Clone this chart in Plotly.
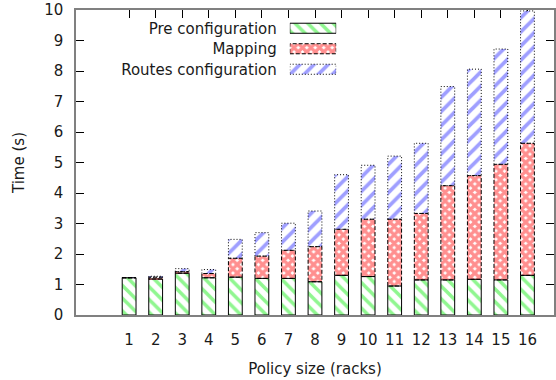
import plotly.graph_objects as go

racks = list(range(1, 17))
pre_config = [1.22, 1.18, 1.37, 1.22, 1.24, 1.20, 1.20, 1.09, 1.30, 1.26, 0.95, 1.15, 1.15, 1.17, 1.15, 1.30]
mapping = [0.00, 0.06, 0.05, 0.14, 0.62, 0.73, 0.92, 1.15, 1.51, 1.88, 2.19, 2.18, 3.09, 3.40, 3.79, 4.33]
routes = [0.01, 0.03, 0.10, 0.13, 0.62, 0.77, 0.89, 1.17, 1.79, 1.77, 2.07, 2.30, 3.25, 3.49, 3.78, 4.34]
series_names = ["Pre configuration", "Mapping", "Routes configuration"]
y_ticks = list(range(0, 11))

FONT = dict(family="DejaVu Sans", size=15, color="#1a1a1a")
BAR_W = 0.52
L, R, T, B = 76, 0, 10, 65
W, H = 556, 380

styles = [
    dict(color="white",
         pattern=dict(shape="\\", fgcolor="#22ee22", bgcolor="white", size=9, solidity=0.4),
         dash="solid"),
    dict(color="white",
         pattern=dict(shape="x", fgcolor="#ff2020", bgcolor="white", size=6, solidity=0.8),
         dash="4px,2px"),
    dict(color="white",
         pattern=dict(shape="/", fgcolor="#4040ff", bgcolor="white", size=10, solidity=0.38),
         dash="1px,2px"),
]

fig = go.Figure()
series = [pre_config, mapping, routes]
bases = [[0.0] * 16, list(pre_config), [p + m for p, m in zip(pre_config, mapping)]]

for vals, base, st, name in zip(series, bases, styles, series_names):
    fig.add_trace(go.Bar(
        x=racks, y=vals, base=base, width=BAR_W, name=name, showlegend=False,
        marker=dict(color=st["color"], pattern=st["pattern"], line=dict(width=0)),
    ))

# outlines of every segment (dash styles cannot be set on bar borders)
for vals, base, st in zip(series, bases, styles):
    xs, ys = [], []
    for xi, v, b in zip(racks, vals, base):
        x0, x1 = xi - BAR_W / 2, xi + BAR_W / 2
        xs += [x0, x0, x1, x1, x0, None]
        ys += [b, b + v, b + v, b, b, None]
    fig.add_trace(go.Scatter(x=xs, y=ys, mode="lines", showlegend=False, hoverinfo="skip",
                             line=dict(color="black", width=1, dash=st["dash"])))

# legend samples drawn on a small overlay axis
leg_pos = [2, 1, 0]
SW = 0.49
for name, st, p in zip(series_names, styles, leg_pos):
    fig.add_trace(go.Bar(x=[1], y=[p], orientation="h", width=SW, xaxis="x2", yaxis="y2",
                         showlegend=False, hoverinfo="skip",
                         marker=dict(color=st["color"], pattern=st["pattern"], line=dict(width=0))))
    fig.add_trace(go.Scatter(x=[0, 1, 1, 0, 0], y=[p - SW / 2, p - SW / 2, p + SW / 2, p + SW / 2, p - SW / 2],
                             xaxis="x2", yaxis="y2", mode="lines", showlegend=False, hoverinfo="skip",
                             line=dict(color="black", width=1, dash=st["dash"])))

pw = W - L - R
ph = H - T - B
leg_x0, leg_x1 = (290.7 - L) / pw, (337.3 - L) / pw
leg_y_top, leg_y_bot = 18.0, 79.5
fig.update_layout(
    width=W, height=H, margin=dict(l=L, r=R, t=T, b=B),
    paper_bgcolor="white", plot_bgcolor="white", barmode="overlay",
    font=FONT,
    xaxis=dict(range=[-1, 17], tickmode="array", tickvals=racks, ticktext=[str(r) for r in racks],
               ticks="inside", ticklen=8, tickcolor="black", mirror="ticks", showline=True,
               linecolor="#808080", linewidth=1.5, showgrid=False, zeroline=False,
               layer="below traces", ticklabelstandoff=10, tickfont=FONT,
               title=dict(text="Policy size (racks)", standoff=16, font=FONT)),
    yaxis=dict(range=[0, 10], tickmode="array", tickvals=y_ticks, ticks="inside", ticklen=8,
               tickcolor="black", mirror="ticks", showline=True, linecolor="#808080", linewidth=1.5,
               showgrid=False, zeroline=False, layer="below traces", ticklabelstandoff=8,
               tickfont=FONT, title=dict(text="Time (s)", standoff=16, font=FONT)),
    xaxis2=dict(domain=[leg_x0, leg_x1], range=[0, 1], anchor="y2", visible=False, fixedrange=True),
    yaxis2=dict(domain=[1 - (leg_y_bot - T) / ph, 1 - (leg_y_top - T) / ph], range=[-0.5, 2.5],
                anchor="x2", tickmode="array", tickvals=leg_pos, ticktext=series_names,
                showline=False, showgrid=False, zeroline=False, ticks="", ticklabelstandoff=12,
                tickfont=FONT, fixedrange=True),
)

fig.write_html("out.html")
